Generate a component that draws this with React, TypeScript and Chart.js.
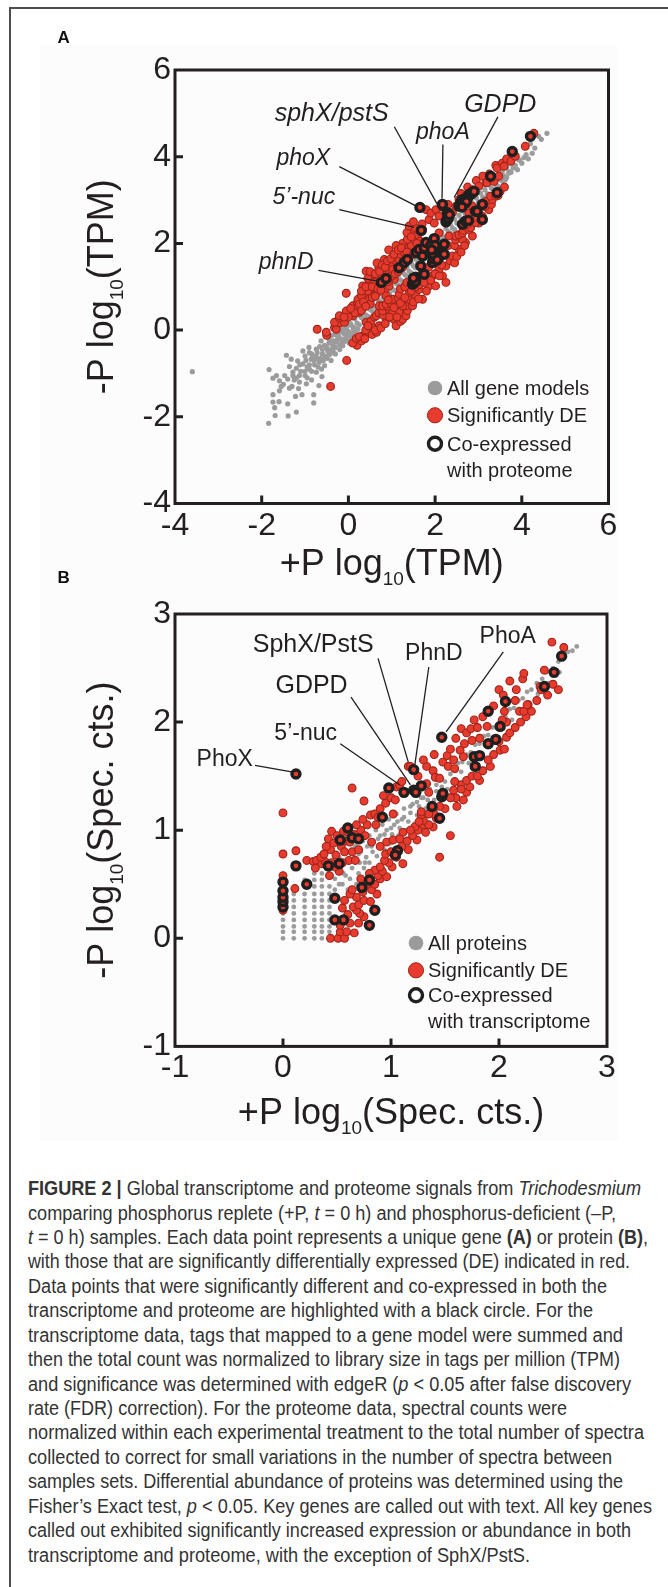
import React, { useEffect, useLayoutEffect, useRef } from 'react';
import { Chart, registerables } from 'chart.js';

Chart.register(...registerables);

type Pt = [number, number];

// ================= Panel A : transcriptome, log10(TPM) =================
const aTickValues = [-4, -2, 0, 2, 4, 6];

const aGeneModels: Pt[] = [
  [-3.6, -0.96],
  [-1.84, -2.15], [-1.69, -1.97], [-1.39, -1.98], [-1.2, -1.89], [-1.7, -1.79], [-1.74, -1.66], [-1.6, -1.65], [-1.4, -1.7],
  [-0.8, -1.68], [-1.74, -1.49], [-1.59, -1.4], [-1.36, -1.34], [-1.22, -1.53], [-1.07, -1.49], [-0.8, -1.49], [-0.68, -1.28],
  [-1.83, -0.91], [-1.74, -1.11], [-1.66, -1.05], [-1.59, -1.17], [-1.4, -1.13], [-1.28, -1.05], [-1.13, -1.2], [-0.97, -1.24],
  [-1.43, -0.58], [-1.32, -0.67], [-1.36, -0.84], [-1.2, -0.88], [-1.05, -0.48], [-0.91, -0.4], [-1.05, -0.78], [-0.9, -0.9],
  [-0.74, -0.97], [-0.61, -1.07], [-0.71, -0.67], [-0.55, -0.82], [-0.63, -0.25], [-0.48, -0.48], [-0.74, -0.44], [-1.13, -1.05],
  [-1.17, -0.71], [-0.86, -0.67], [-0.67, -0.74], [-1.0, -1.05], [-1.28, -0.97], [-1.47, -1.05], [-0.36, -0.36], [-0.28, -0.28],
  [-0.21, -0.17], [-0.44, -0.21], [-0.13, -0.36],
  [-1.5, -1.25], [-1.25, -1.15], [-1.1, -0.95], [-0.95, -0.85], [-0.85, -0.55], [-0.78, -0.8], [-0.6, -0.55], [-0.5, -0.65],
  [-0.42, -0.55], [-0.55, -0.35], [-0.35, -0.5], [-1.3, -1.3], [-1.55, -1.3], [-1.15, -1.35], [-0.95, -1.1], [-0.85, -1.15],
  [-1.0, -0.6], [-0.9, -0.52], [-0.62, -0.9], [-0.4, -0.7], [-0.3, -0.55], [-0.2, -0.45], [-0.25, -0.05], [-0.1, -0.2],
  [-0.05, 0.05], [0.05, -0.15], [0.15, -0.05],
  [-1.0, -0.95], [-0.9, -0.8], [-0.85, -0.95], [-0.8, -0.7], [-0.75, -0.6], [-0.7, -0.85], [-0.65, -0.65], [-0.6, -0.45],
  [-0.55, -0.6], [-0.5, -0.4], [-0.45, -0.3], [-0.4, -0.45], [-0.35, -0.25], [-0.3, -0.4], [-0.25, -0.2], [-0.2, -0.05],
  [-0.15, -0.3], [-0.1, 0.02], [-0.05, -0.1], [0.0, 0.12], [0.05, -0.25], [0.1, -0.15],
  [-1.2, -1.1], [-1.12, -0.8], [-0.98, -0.7], [-0.82, -0.62], [-0.72, -0.52], [-0.66, -0.38], [-0.58, -0.7], [-0.46, -0.58],
  [-0.38, -0.12], [-0.3, -0.1], [-0.18, 0.08], [-0.08, -0.26], [0.02, -0.3], [0.12, 0.0], [0.22, 0.02],
  [-0.3, -0.26], [-0.2, -0.21], [-0.1, -0.08], [0, -0.03], [0.1, 0.08], [0.2, 0.16], [0.3, 0.29], [0.4, 0.35], [0.5, 0.48],
  [0.6, 0.55], [0.7, 0.68], [0.8, 0.76], [0.9, 0.88], [1, 0.95], [1.1, 1.08], [1.2, 1.16], [1.3, 1.28], [1.4, 1.36],
  [1.5, 1.48], [1.6, 1.55], [1.7, 1.68], [1.8, 1.76], [1.9, 1.88], [2, 1.96], [2.1, 2.08], [2.2, 2.15], [2.3, 2.28],
  [2.4, 2.36], [2.5, 2.47], [2.6, 2.56], [2.7, 2.68], [2.8, 2.75], [2.9, 2.87], [3, 2.96], [3.1, 3.07], [3.2, 3.15],
  [3.3, 3.27], [3.4, 3.36], [3.5, 3.47], [3.6, 3.55], [3.7, 3.66], [3.8, 3.74],
  [-0.25, -0.1], [-0.15, 0.0], [-0.05, 0.08], [0.05, 0.15], [0.15, 0.26], [0.25, 0.34], [0.35, 0.46], [0.45, 0.55],
  [0.55, 0.64], [0.65, 0.76], [0.75, 0.85], [0.85, 0.96], [0.95, 1.05], [1.05, 1.15], [1.15, 1.26], [1.25, 1.34],
  [1.35, 1.46], [1.45, 1.55], [1.55, 1.64], [1.65, 1.76], [1.75, 1.85], [1.85, 1.95], [1.95, 2.06], [2.05, 2.14],
  [2.15, 2.26], [2.25, 2.35], [2.35, 2.44], [2.45, 2.56], [2.55, 2.65], [2.65, 2.74], [2.75, 2.86], [2.85, 2.94],
  [2.95, 3.05], [3.05, 3.16], [3.15, 3.24], [3.25, 3.35], [3.35, 3.46], [3.45, 3.54], [3.55, 3.65], [3.65, 3.76], [3.75, 3.84],
  [-0.2, -0.34], [-0.05, -0.2], [0.05, -0.08], [0.15, 0.04], [0.25, 0.12], [0.35, 0.24], [0.45, 0.32], [0.55, 0.44],
  [0.65, 0.52], [0.75, 0.64], [0.85, 0.72], [0.95, 0.84], [1.05, 0.92], [1.15, 1.04], [1.25, 1.12], [1.35, 1.24],
  [1.45, 1.32], [1.55, 1.44], [1.65, 1.52], [1.75, 1.64], [1.85, 1.72], [1.95, 1.84], [2.05, 1.92], [2.15, 2.04],
  [2.25, 2.12], [2.35, 2.24], [2.45, 2.32], [2.55, 2.44], [2.65, 2.52], [2.75, 2.64], [2.85, 2.72], [2.95, 2.84],
  [3.05, 2.92], [3.15, 3.04], [3.25, 3.12], [3.35, 3.24], [3.45, 3.32], [3.55, 3.44], [3.65, 3.52], [3.75, 3.64],
  [3.85, 3.8], [3.9, 3.7], [3.95, 3.92], [4.0, 3.85], [4.05, 3.98], [4.1, 4.05], [4.15, 3.95], [4.24, 4.08], [4.3, 4.2],
  [4.39, 4.47], [4.58, 4.54], [4.45, 4.4], [3.7, 3.62], [3.62, 3.47], [3.93, 3.93], [4.2, 4.3],
];

const aSignificantDE: Pt[] = [
  [-0.41, -1.3], [-0.04, -0.7], [-0.72, 0.02], [-0.5, -0.12], [-0.32, 0.06], [-0.51, -0.05], [-0.28, 0.02], [-0.21, 0.17],
  [-0.32, 0.18], [-0.09, 0.18], [-0.21, 0.29], [-0.02, 0.34], [-0.21, 0.33], [0.1, 0.33], [-0.05, 0.44], [0.14, 0.48],
  [0.1, 0.56], [0.33, 0.56], [0.21, 0.64], [0.22, 0.71], [0.25, 0.41], [0.2, 0.5], [0.41, 0.79], [0.3, 0.8], [0.48, 0.71],
  [0.5, 0.6], [0.6, 0.94], [0.56, 0.87], [0.37, 0.94], [0.45, 0.9], [0.33, 1.02], [0.48, 1.13], [-0.05, 0.85], [0.56, 1.29],
  [0.41, 1.36], [0.7, 1.44], [0.83, 1.63], [0.93, 1.85], [0.6, 1.1], [0.7, 1.25], [0.8, 1.35], [0.9, 1.3], [0.75, 1.05],
  [0.85, 0.95], [0.65, 0.85], [0.94, 1.02], [0.87, 1.17], [1.06, 1.17], [0.95, 1.2], [1.0, 1.5], [1.02, 1.4], [1.13, 1.48],
  [1.1, 1.6], [1.17, 1.63], [1.2, 1.75], [1.3, 1.6], [1.29, 1.79], [1.4, 1.94], [1.45, 1.95], [1.25, 2.0], [1.1, 1.95],
  [1.36, 2.09], [1.56, 2.13], [1.48, 2.28], [1.35, 2.25], [1.4, 2.4], [1.6, 2.2], [1.65, 2.05], [1.71, 2.32], [1.55, 2.35],
  [1.7, 2.45], [1.5, 2.5], [1.86, 2.55], [1.98, 2.47], [1.79, 2.78], [1.9, 2.7], [2.02, 2.78], [2.09, 2.63], [2.15, 2.85],
  [2.25, 2.47], [2.32, 2.55], [2.3, 2.9], [2.4, 2.71], [2.48, 2.86], [2.55, 3.01], [2.6, 3.15], [2.7, 3.09], [2.75, 3.3],
  [2.86, 3.24], [2.95, 3.45], [3.01, 3.32], [3.1, 3.55], [3.17, 3.4], [3.2, 3.4], [3.25, 3.6], [3.32, 3.47], [3.36, 3.43],
  [3.4, 3.8], [3.43, 3.74], [3.47, 3.55], [3.55, 3.85], [3.59, 3.78], [3.65, 3.95], [3.75, 3.9], [3.85, 4.01], [4.08, 4.24],
  [4.28, 4.54],
  [0.25, 0.6], [0.35, 0.65], [0.3, 0.9], [0.4, 1.0], [0.45, 1.2], [0.55, 1.0], [0.5, 1.35], [0.62, 1.3], [0.66, 1.55],
  [0.72, 1.35], [0.78, 1.5], [0.85, 1.45], [0.9, 1.6], [0.98, 1.65], [1.05, 1.75], [1.15, 1.85], [1.22, 1.9], [0.15, 0.4],
  [0.05, 0.5], [0.0, 0.3], [-0.1, 0.3], [0.3, 0.45], [0.4, 0.55], [0.55, 0.75], [0.68, 0.95], [0.62, 0.78], [0.75, 0.92],
  [0.8, 1.1], [0.92, 1.12], [1.0, 1.25], [1.08, 1.3], [1.15, 1.35], [1.25, 1.45], [1.35, 1.8], [1.5, 1.75], [1.58, 2.0],
  [1.45, 2.15],
  [0.2, -0.35], [0.1, -0.3], [0.3, -0.25], [0.18, -0.19], [0.33, -0.13], [0.44, -0.05], [0.48, -0.05], [0.55, -0.1],
  [0.65, -0.05], [0.4, 0.0], [0.56, 0.06], [0.71, 0.1], [0.41, 0.18], [0.52, 0.21], [0.87, 0.25], [0.6, 0.3], [0.64, 0.33],
  [0.7, 0.4], [0.8, 0.35], [0.79, 0.44], [0.94, 0.48], [1.1, 0.48], [0.71, 0.56], [0.79, 0.56], [0.9, 0.55], [0.87, 0.6],
  [1.0, 0.6], [1.02, 0.41], [1.05, 0.25], [1.1, 0.1], [1.2, 0.2], [1.25, 0.25], [1.3, 0.4], [1.17, 0.41], [1.33, 0.33],
  [1.36, 0.45], [1.33, 0.56], [1.25, 0.56], [1.1, 0.64], [1.02, 0.71], [1.15, 0.75], [0.87, 0.79], [1.17, 0.83], [1.4, 0.71],
  [1.48, 0.56], [1.55, 0.8], [1.71, 0.71], [1.4, 0.87], [1.63, 0.94], [1.2, 0.95], [1.3, 1.0], [1.5, 1.1], [1.86, 1.02],
  [2.01, 1.02], [2.25, 1.1], [1.6, 1.2], [1.8, 1.15], [1.7, 1.3], [1.94, 1.25], [2.17, 1.25], [2.09, 1.4], [1.85, 1.45],
  [2.25, 1.48], [2.0, 1.55], [2.35, 1.6], [2.1, 1.65], [2.4, 1.71], [2.2, 1.8], [2.55, 1.86], [2.3, 1.95], [2.45, 1.95],
  [2.02, 1.94], [2.7, 2.02], [2.47, 2.09], [2.63, 2.09], [2.32, 2.17], [2.48, 2.17], [2.86, 2.17], [2.09, 2.24], [2.55, 2.2],
  [2.63, 2.24], [2.65, 2.3], [2.78, 2.32], [2.82, 2.36], [2.75, 2.45], [3.01, 2.47], [2.93, 2.48], [2.9, 2.6], [3.09, 2.63],
  [3.0, 2.7], [2.78, 2.7], [3.24, 2.78], [3.15, 2.85], [2.86, 2.86], [3.3, 2.9], [3.17, 2.97], [3.32, 3.01], [3.28, 3.09],
  [3.4, 3.09], [3.45, 3.1], [3.5, 3.2], [3.6, 3.3],
  [0.25, -0.15], [0.38, -0.2], [0.45, 0.1], [0.62, 0.0], [0.75, 0.05], [0.85, 0.15], [0.95, 0.3], [1.12, 0.3], [0.92, 0.7],
  [1.05, 0.52], [1.2, 0.62], [1.3, 0.75], [1.45, 0.9], [1.35, 1.1], [1.55, 1.0], [1.65, 1.05], [1.75, 1.1], [1.5, 0.65],
  [1.62, 0.72], [1.8, 0.9], [1.9, 1.15], [2.0, 1.3], [2.1, 1.25], [2.15, 1.5], [2.45, 1.55], [2.5, 1.7], [2.6, 1.8], [2.68, 1.95],
];

const aCoExpressed: Pt[] = [
  [0.76, 1.1], [0.87, 1.19], [1.17, 1.44], [1.29, 1.56], [1.36, 1.63], [1.48, 1.06], [1.5, 1.1], [1.52, 1.17], [1.55, 1.22],
  [1.67, 1.48], [1.75, 1.29], [1.56, 1.79], [1.63, 1.86], [1.71, 1.71], [1.75, 1.9], [1.79, 2.02], [1.94, 1.56], [1.95, 1.65],
  [1.98, 1.86], [2.0, 1.8], [2.02, 1.71], [2.05, 1.9], [1.9, 1.95], [1.98, 2.11], [2.1, 1.7], [2.21, 1.75], [2.21, 1.98],
  [1.68, 2.3], [1.65, 2.83], [2.17, 2.9], [2.25, 2.5], [2.28, 2.55], [2.3, 2.62], [2.28, 2.71], [2.55, 2.86], [2.6, 2.9],
  [2.65, 2.95], [2.59, 2.94], [2.63, 3.01], [2.7, 3.0], [2.75, 3.05], [2.78, 3.13], [2.82, 3.13], [2.86, 3.17], [2.9, 3.2],
  [2.63, 2.44], [2.7, 2.51], [2.77, 2.53], [2.93, 2.74], [2.97, 2.74], [3.09, 2.55], [3.09, 2.9], [3.43, 3.17], [3.28, 3.55],
  [3.78, 4.12], [4.2, 4.47],
  [1.95, 1.75], [2.0, 1.95], [2.05, 1.62], [1.92, 1.85], [1.55, 1.12], [1.5, 1.2], [2.68, 2.92], [2.72, 2.96], [2.62, 2.84],
  [2.3, 2.58], [2.33, 2.66],
];

const aLegendLabels = ['All gene models', 'Significantly DE', 'Co-expressed', 'with proteome'];
const aXTitle: [string, string, string] = ['+P log', '10', '(TPM)'];
const aYTitle: [string, string, string] = ['-P log', '10', '(TPM)'];

// ================= Panel B : proteome, log10(spectral counts) =================
const bTickValues = [-1, 0, 1, 2, 3];

const bAllProteins: Pt[] = [
  [0, 0], [0, 0.06], [0, 0.11], [0, 0.17], [0, 0.23],
  [0.1, 0], [0.1, 0.06], [0.1, 0.11], [0.1, 0.17], [0.1, 0.23], [0.1, 0.29], [0.1, 0.35], [0.1, 0.41],
  [0.2, 0], [0.2, 0.06], [0.2, 0.11], [0.2, 0.17], [0.2, 0.23], [0.2, 0.29], [0.2, 0.35], [0.2, 0.41], [0.2, 0.48], [0.2, 0.54],
  [0.29, 0], [0.29, 0.06], [0.29, 0.11], [0.29, 0.17], [0.29, 0.23], [0.29, 0.29], [0.29, 0.35], [0.29, 0.41], [0.29, 0.48], [0.29, 0.54], [0.29, 0.6],
  [0.36, 0], [0.36, 0.06], [0.36, 0.11], [0.36, 0.17], [0.36, 0.23], [0.36, 0.29], [0.36, 0.35], [0.36, 0.41], [0.36, 0.48], [0.36, 0.54], [0.36, 0.6],
  [0.43, 0.06], [0.43, 0.11], [0.43, 0.17], [0.43, 0.23], [0.43, 0.29], [0.43, 0.35], [0.43, 0.41], [0.43, 0.48],
  [0.48, 0.45], [0.48, 0.55], [0.5, 0.65], [0.52, 0.75], [0.55, 0.5], [0.56, 0.6], [0.58, 0.7], [0.6, 0.8], [0.6, 0.45],
  [0.62, 0.55], [0.64, 0.65], [0.66, 0.75], [0.67, 0.85], [0.68, 0.5], [0.7, 0.6], [0.71, 0.7], [0.72, 0.8], [0.74, 0.9],
  [0.75, 0.65], [0.77, 0.75], [0.78, 0.85], [0.8, 0.95], [0.8, 0.7], [0.83, 0.8], [0.84, 0.9], [0.86, 1.0], [0.87, 0.76],
  [0.89, 0.85], [0.9, 0.95], [0.92, 1.05], [0.94, 0.82], [0.95, 0.9], [0.96, 1.0], [0.98, 1.1], [1.0, 0.88], [1.01, 0.96],
  [1.03, 1.05], [1.05, 1.15], [1.07, 0.95], [1.08, 1.02], [1.1, 1.1], [1.12, 1.2], [1.14, 1.0], [1.16, 1.08], [1.18, 1.16],
  [1.2, 1.24], [1.22, 1.06], [1.24, 1.14], [1.26, 1.22], [1.28, 1.3], [1.3, 1.13], [1.32, 1.2], [1.34, 1.28], [1.36, 1.34],
  [1.38, 1.2], [1.4, 1.28], [1.42, 1.36], [1.45, 1.3], [1.47, 1.4],
  [0.52, 0.5], [0.58, 0.58], [0.64, 0.72], [0.7, 0.78], [0.76, 0.7], [0.82, 0.85], [0.88, 0.92], [0.94, 0.96], [1.0, 1.02],
  [1.06, 1.08], [1.12, 1.12], [1.18, 1.22], [1.24, 1.26], [1.3, 1.3], [1.36, 1.38], [1.42, 1.42], [1.46, 1.34],
  [1.5, 1.45], [1.52, 1.38], [1.55, 1.52], [1.58, 1.46], [1.6, 1.55], [1.62, 1.62], [1.65, 1.54], [1.66, 1.63], [1.7, 1.7],
  [1.72, 1.62], [1.74, 1.72], [1.78, 1.79], [1.8, 1.7], [1.82, 1.8], [1.86, 1.87], [1.88, 1.78], [1.9, 1.88], [1.94, 1.95],
  [1.96, 1.86], [1.98, 1.96], [2.02, 2.03], [2.04, 1.94], [2.06, 2.05], [2.1, 2.12], [2.12, 2.02], [2.14, 2.13], [2.18, 2.2],
  [2.2, 2.1], [2.22, 2.22], [2.26, 2.28], [2.28, 2.18], [2.3, 2.3], [2.35, 2.36], [2.36, 2.26], [2.4, 2.4], [2.44, 2.46],
  [2.46, 2.36], [2.5, 2.5], [2.55, 2.56], [2.56, 2.46], [2.6, 2.6], [2.64, 2.65], [2.68, 2.66], [2.72, 2.7],
];

const bSignificantDE: Pt[] = [
  [0, 0.26], [0, 0.58], [0, 0.78], [0, 1.16], [0.12, 0.81], [0.11, 0.46], [0.22, 0.72], [0.28, 0.71], [0.31, 0.72],
  [0.36, 0.69], [0.39, 0.71], [0.42, 0.66], [0.43, 0.58], [0.35, 0.75], [0.45, 0.7], [0.52, 0.62], [0.44, 0.82], [0.42, 0.92],
  [0.4, 0.85], [0.45, 0.99], [0.47, 0.88], [0.49, 0.77], [0.5, 0.95], [0.54, 0.85], [0.56, 0.99], [0.57, 0.8], [0.58, 0.9],
  [0.61, 0.72], [0.62, 0.89], [0.64, 0.8], [0.66, 0.96], [0.67, 0.72], [0.72, 1.0], [0.78, 1.05], [0.82, 0.89], [0.81, 1.14],
  [0.85, 1.15], [0.88, 1.12], [0.9, 1.2], [0.95, 1.25], [1.0, 1.3], [0.75, 1.27], [0.64, 1.39],
  [0.3, 0.65], [0.38, 0.78], [0.48, 0.66], [0.55, 0.7], [0.6, 0.98], [0.68, 1.05], [0.74, 1.1], [0.7, 0.82], [0.76, 0.95],
  [0.86, 1.05], [0.93, 1.32], [1.05, 1.4],
  [0.44, 0], [0.51, 0], [0.57, 0], [0.53, 0.06], [0.59, 0.06], [0.66, 0.05], [0.53, 0.12], [0.62, 0.14], [0.7, 0.14],
  [0.75, 0.2], [0.6, 0.22], [0.71, 0.23], [0.68, 0.26], [0.65, 0.29], [0.7, 0.31], [0.57, 0.35], [0.75, 0.35], [0.68, 0.38],
  [0.62, 0.41], [0.74, 0.43], [0.81, 0.34], [0.87, 0.41], [0.82, 0.45], [0.78, 0.5], [0.85, 0.5], [0.9, 0.55], [0.88, 0.58],
  [0.96, 0.57], [0.92, 0.62], [0.85, 0.63], [0.9, 0.66], [1.01, 0.66], [0.98, 0.7], [1.11, 0.69], [0.94, 0.72], [1.05, 0.75],
  [1.16, 0.82], [0.9, 0.85], [1.1, 0.85], [0.96, 0.89], [1.15, 0.9], [1.02, 0.91], [1.24, 0.91], [1.2, 0.95], [1.11, 0.98],
  [1.32, 0.98], [1.25, 1.0], [1.22, 1.03], [1.39, 1.03], [1.3, 1.05], [1.35, 1.05], [1.3, 1.09], [1.42, 1.11], [1.28, 1.14],
  [1.4, 1.15], [1.28, 1.17], [1.5, 1.2], [1.61, 1.22], [1.67, 1.28], [1.6, 1.3], [1.7, 1.35], [1.58, 1.37], [1.73, 1.4],
  [1.65, 1.42], [1.59, 1.45], [1.82, 1.46], [1.7, 1.46], [1.75, 1.5], [1.85, 1.55], [1.92, 1.59], [1.95, 1.7], [2.01, 1.74],
  [2.05, 1.75], [2.07, 1.86], [2.1, 1.9], [2.2, 2.0], [2.07, 2.0], [2.19, 2.1], [2.3, 2.1], [2.27, 2.16], [2.35, 2.2],
  [2.45, 2.25], [2.4, 2.3], [2.5, 2.35], [2.55, 2.3], [2.38, 2.33], [1.45, 0.75], [1.55, 0.95],
  [0.55, 0.28], [0.64, 0.45], [0.72, 0.55], [0.8, 0.6], [0.95, 0.78], [1.0, 0.8], [1.08, 0.92], [1.18, 1.0], [1.26, 1.08],
  [1.35, 1.15], [1.45, 1.22], [1.55, 1.3], [1.65, 1.38], [1.8, 1.5], [1.9, 1.65], [2.0, 1.82], [2.15, 1.95], [2.25, 2.05],
  [1.02, 1.15], [1.04, 1.28], [1.08, 1.42], [1.1, 1.45], [1.16, 1.59], [1.25, 1.5], [1.33, 1.43], [1.35, 1.35], [1.33, 1.59],
  [1.3, 1.65], [1.39, 1.55], [1.41, 1.49], [1.45, 1.48], [1.48, 1.63], [1.4, 1.7], [1.52, 1.69], [1.53, 1.59], [1.58, 1.65],
  [1.59, 1.57], [1.55, 1.75], [1.64, 1.74], [1.6, 1.85], [1.67, 1.68], [1.68, 1.8], [1.65, 1.94], [1.7, 1.9], [1.74, 1.94],
  [1.75, 1.83], [1.77, 2.02], [1.8, 1.95], [1.82, 1.85], [1.85, 2.05], [1.89, 1.96], [1.95, 2.15], [2.0, 2.3], [2.03, 2.02],
  [2.04, 2.25], [2.05, 2.1], [2.1, 2.38], [2.15, 2.2], [2.16, 2.3], [2.22, 2.4], [2.23, 2.45], [2.23, 2.1], [2.26, 2.16],
  [2.39, 2.3], [2.42, 2.48], [2.49, 2.74], [2.6, 2.69], [1.18, 1.59],
];

const bCoExpressed: Pt[] = [
  [0, 0.29], [0, 0.34], [0, 0.38], [0, 0.44], [0, 0.52], [0.12, 0.67], [0.22, 0.5], [0.42, 0.67], [0.52, 0.69], [0.48, 0.37],
  [0.48, 0.17], [0.56, 0.17], [0.8, 0.12], [0.85, 0.26], [0.73, 0.47], [0.8, 0.54], [1.06, 0.81], [1.04, 0.77], [0.53, 0.91],
  [0.6, 1.02], [0.64, 0.93], [0.7, 0.92], [0.92, 1.12], [0.12, 1.52], [0.98, 1.39], [1.12, 1.35], [1.21, 1.37], [1.23, 1.35],
  [1.28, 1.41], [1.21, 1.56], [1.38, 1.22], [1.45, 1.11], [1.47, 1.31], [1.48, 1.34], [1.47, 1.86], [1.78, 1.59], [1.77, 1.68],
  [1.82, 1.69], [1.9, 1.8], [1.97, 1.84], [2.01, 1.96], [1.9, 2.1], [2.06, 2.19], [2.42, 2.33], [2.51, 2.46], [2.58, 2.61],
];

const bLegendLabels = ['All proteins', 'Significantly DE', 'Co-expressed', 'with transcriptome'];
const bXTitle: [string, string, string] = ['+P log', '10', '(Spec. cts.)'];
const bYTitle: [string, string, string] = ['-P log', '10', '(Spec. cts.)'];

// ================= Styling / layout =================
const FONT = "'Liberation Sans', Arial, Helvetica, sans-serif";
const INK = '#231f20';
const GREY = '#9b9b9b';
const RED = '#e63b2e';
const RED_EDGE = '#9e2418';
const RING = '#1f1f1f';

type Callout = { text: string; size: number; label: Pt; from: Pt; to: Pt };

const aCallouts: Callout[] = [
  { text: 'sphX/pstS', size: 25, label: [-1.7, 4.83], from: [1.06, 4.69], to: [2.14, 2.74] },
  { text: 'GDPD', size: 25, label: [2.67, 5.02], from: [3.45, 4.92], to: [2.44, 3.06] },
  { text: 'phoA', size: 23, label: [1.56, 4.41], from: [2.18, 4.28], to: [2.16, 3.03] },
  { text: 'phoX', size: 23, label: [-1.66, 3.82], from: [-0.21, 3.77], to: [1.59, 2.85] },
  { text: '5\u2019-nuc', size: 23, label: [-1.75, 2.92], from: [-0.21, 2.78], to: [1.52, 2.37] },
  { text: 'phnD', size: 23, label: [-2.07, 1.4], from: [-0.69, 1.38], to: [0.67, 1.13] },
];

const bCallouts: Callout[] = [
  { text: 'PhoX', size: 23, label: [-0.8, 1.59], from: [-0.26, 1.6], to: [0.08, 1.54] },
  { text: '5\u2019-nuc', size: 23, label: [-0.08, 1.83], from: [0.53, 1.8], to: [1.08, 1.42] },
  { text: 'GDPD', size: 25, label: [-0.07, 2.27], from: [0.63, 2.23], to: [1.18, 1.42] },
  { text: 'SphX/PstS', size: 25, label: [-0.28, 2.65], from: [0.88, 2.59], to: [1.16, 1.63] },
  { text: 'PhnD', size: 23, label: [1.13, 2.57], from: [1.35, 2.51], to: [1.22, 1.6] },
  { text: 'PhoA', size: 23, label: [1.82, 2.73], from: [2.04, 2.65], to: [1.51, 1.91] },
];

type PanelCfg = {
  letter: string;
  letterBaseline: number;
  canvasTop: number;
  canvasH: number;
  area: { left: number; top: number; right: number; bottom: number };
  ticks: number[];
  italic: boolean;
  callouts: Callout[];
  grey: Pt[];
  red: Pt[];
  ring: Pt[];
  greyRadius: number;
  legendLabels: string[];
  legendMarkerX: number;
  legendTextX: number;
  legendBaselines: number[];
  xTitle: [string, string, string];
  yTitle: [string, string, string];
  xTitleBaseline: number;
  yTitleBaselineX: number;
};

const panelA: PanelCfg = {
  letter: 'A', letterBaseline: 43, canvasTop: 0, canvasH: 600,
  area: { left: 175, top: 70, right: 608.5, bottom: 503.5 },
  ticks: aTickValues, italic: true, callouts: aCallouts,
  grey: aGeneModels, red: aSignificantDE, ring: aCoExpressed, greyRadius: 2.6,
  legendLabels: aLegendLabels, legendMarkerX: 435, legendTextX: 447,
  legendBaselines: [395, 422.3, 450.7, 476.7],
  xTitle: aXTitle, yTitle: aYTitle, xTitleBaseline: 575, yTitleBaselineX: 113,
};

const panelB: PanelCfg = {
  letter: 'B', letterBaseline: 583, canvasTop: 560, canvasH: 590,
  area: { left: 175, top: 614, right: 607, bottom: 1046.4 },
  ticks: bTickValues, italic: false, callouts: bCallouts,
  grey: bAllProteins, red: bSignificantDE, ring: bCoExpressed, greyRadius: 2.4,
  legendLabels: bLegendLabels, legendMarkerX: 416, legendTextX: 428,
  legendBaselines: [950, 977.3, 1002.3, 1027.7],
  xTitle: bXTitle, yTitle: bYTitle, xTitleBaseline: 1124, yTitleBaselineX: 113,
};

function drawTitle(ctx: CanvasRenderingContext2D, parts: [string, string, string], x: number, y: number, rotate: boolean) {
  ctx.save();
  ctx.translate(x, y);
  if (rotate) ctx.rotate(-Math.PI / 2);
  const big = `36px ${FONT}`;
  const small = `19px ${FONT}`;
  ctx.font = big;
  const w0 = ctx.measureText(parts[0]).width;
  const w2 = ctx.measureText(parts[2]).width;
  ctx.font = small;
  const w1 = ctx.measureText(parts[1]).width;
  let cx = -(w0 + w1 + w2) / 2;
  ctx.fillStyle = INK;
  ctx.textAlign = 'left';
  ctx.textBaseline = 'alphabetic';
  ctx.font = big;
  ctx.fillText(parts[0], cx, 0);
  cx += w0;
  ctx.font = small;
  ctx.fillText(parts[1], cx, 10);
  cx += w1;
  ctx.font = big;
  ctx.fillText(parts[2], cx, 0);
  ctx.restore();
}

function decorPlugin(p: PanelCfg) {
  return {
    id: 'decor' + p.letter,
    afterDatasetsDraw(chart: any) {
      const ctx: CanvasRenderingContext2D = chart.ctx;
      const { left, top, right, bottom } = chart.chartArea;
      const xs = chart.scales.x;
      const ys = chart.scales.y;
      const oy = p.canvasTop;
      ctx.save();
      // callout leader lines
      ctx.strokeStyle = INK;
      ctx.lineWidth = 1.3;
      for (const c of p.callouts) {
        ctx.beginPath();
        ctx.moveTo(xs.getPixelForValue(c.from[0]), ys.getPixelForValue(c.from[1]));
        ctx.lineTo(xs.getPixelForValue(c.to[0]), ys.getPixelForValue(c.to[1]));
        ctx.stroke();
      }
      ctx.fillStyle = INK;
      ctx.textAlign = 'left';
      ctx.textBaseline = 'alphabetic';
      for (const c of p.callouts) {
        ctx.font = `${p.italic ? 'italic ' : ''}${c.size}px ${FONT}`;
        ctx.fillText(c.text, xs.getPixelForValue(c.label[0]), ys.getPixelForValue(c.label[1]));
      }
      // frame box
      ctx.strokeStyle = INK;
      ctx.lineWidth = 3;
      ctx.strokeRect(left, top, right - left, bottom - top);
      // inward ticks
      ctx.beginPath();
      for (const v of p.ticks.slice(1, -1)) {
        const x = xs.getPixelForValue(v);
        ctx.moveTo(x, bottom);
        ctx.lineTo(x, bottom - 8);
        const y = ys.getPixelForValue(v);
        ctx.moveTo(left, y);
        ctx.lineTo(left + 8, y);
      }
      ctx.stroke();
      // legend
      const mx = p.legendMarkerX;
      const lb = p.legendBaselines.map((b) => b - oy);
      ctx.fillStyle = GREY;
      ctx.beginPath();
      ctx.arc(mx, lb[0] - 7, 7.3, 0, Math.PI * 2);
      ctx.fill();
      ctx.fillStyle = RED;
      ctx.strokeStyle = RED_EDGE;
      ctx.lineWidth = 1;
      ctx.beginPath();
      ctx.arc(mx, lb[1] - 7, 7.6, 0, Math.PI * 2);
      ctx.fill();
      ctx.stroke();
      ctx.strokeStyle = RING;
      ctx.lineWidth = 3.4;
      ctx.beginPath();
      ctx.arc(mx, lb[2] - 7, 6.5, 0, Math.PI * 2);
      ctx.stroke();
      ctx.fillStyle = INK;
      ctx.font = `20px ${FONT}`;
      p.legendLabels.forEach((t, i) => ctx.fillText(t, p.legendTextX, lb[i]));
      // axis titles
      drawTitle(ctx, p.xTitle, (left + right) / 2, p.xTitleBaseline - oy, false);
      drawTitle(ctx, p.yTitle, p.yTitleBaselineX, (top + bottom) / 2, true);
      // panel letter
      ctx.fillStyle = '#111';
      ctx.font = `bold 17px ${FONT}`;
      ctx.fillText(p.letter, 57.5, p.letterBaseline - oy);
      ctx.restore();
    },
  };
}

function Panel({ cfg }: { cfg: PanelCfg }) {
  const ref = useRef<HTMLCanvasElement>(null);
  useEffect(() => {
    const W = 668;
    const a = cfg.area;
    const oy = cfg.canvasTop;
    const axisCommon = (isX: boolean) => ({
      type: 'linear' as const,
      min: cfg.ticks[0],
      max: cfg.ticks[cfg.ticks.length - 1],
      grid: { display: false, drawTicks: false },
      border: { display: false },
      afterBuildTicks: (axis: any) => {
        axis.ticks = cfg.ticks.map((v) => ({ value: v }));
      },
      afterFit: (axis: any) => {
        if (isX) axis.height = cfg.canvasH - (a.bottom - oy);
        else axis.width = a.left;
      },
      ticks: {
        autoSkip: false,
        maxRotation: 0,
        padding: isX ? 3 : 4,
        color: INK,
        font: { family: FONT, size: 32 },
        callback: (v: any) => String(v),
      },
    });
    const chart = new Chart(ref.current!, {
      type: 'scatter',
      data: {
        datasets: [
          {
            label: 'co', data: cfg.ring.map(([x, y]) => ({ x, y })), order: 0,
            pointRadius: 4, pointBorderWidth: 3.4, pointBackgroundColor: RED, pointBorderColor: RING,
          },
          {
            label: 'de', data: cfg.red.map(([x, y]) => ({ x, y })), order: 1,
            pointRadius: 3.9, pointBorderWidth: 1.1, pointBackgroundColor: RED, pointBorderColor: RED_EDGE,
          },
          {
            label: 'all', data: cfg.grey.map(([x, y]) => ({ x, y })), order: 2,
            pointRadius: cfg.greyRadius, pointBorderWidth: 0, pointBackgroundColor: GREY, pointBorderColor: GREY,
          },
        ] as any,
      },
      options: {
        responsive: false,
        animation: false,
        devicePixelRatio: 1,
        events: [],
        layout: { padding: { left: 0, top: a.top - oy, right: W - a.right, bottom: 0 } },
        plugins: { legend: { display: false }, tooltip: { enabled: false } },
        scales: { x: axisCommon(true), y: axisCommon(false) } as any,
      },
      plugins: [decorPlugin(cfg)],
    });
    return () => chart.destroy();
  }, [cfg]);
  return (
    <canvas
      ref={ref}
      width={668}
      height={cfg.canvasH}
      style={{ position: 'absolute', left: 0, top: cfg.canvasTop, width: 668, height: cfg.canvasH }}
    />
  );
}

// ================= Caption =================
const captionLines: React.ReactNode[] = [
  <><b>FIGURE 2 |</b> Global transcriptome and proteome signals from <i>Trichodesmium</i></>,
  <>comparing phosphorus replete (+P, <i>t</i> = 0 h) and phosphorus-deficient (–P,</>,
  <><i>t</i> = 0 h) samples. Each data point represents a unique gene <b>(A)</b> or protein <b>(B)</b>,</>,
  <>with those that are significantly differentially expressed (DE) indicated in red.</>,
  <>Data points that were significantly different and co-expressed in both the</>,
  <>transcriptome and proteome are highlighted with a black circle. For the</>,
  <>transcriptome data, tags that mapped to a gene model were summed and</>,
  <>then the total count was normalized to library size in tags per million (TPM)</>,
  <>and significance was determined with edgeR (<i>p</i> &lt; 0.05 after false discovery</>,
  <>rate (FDR) correction). For the proteome data, spectral counts were</>,
  <>normalized within each experimental treatment to the total number of spectra</>,
  <>collected to correct for small variations in the number of spectra between</>,
  <>samples sets. Differential abundance of proteins was determined using the</>,
  <>Fisher’s Exact test, <i>p</i> &lt; 0.05. Key genes are called out with text. All key genes</>,
  <>called out exhibited significantly increased expression or abundance in both</>,
  <>transcriptome and proteome, with the exception of SphX/PstS.</>,
];
const captionWidths = [613, 588, 620, 602, 579, 565, 595, 592, 603, 539, 616, 584, 595, 624, 603, 502];
const CAPTION_FIRST_BASELINE = 1195;
const CAPTION_PITCH = 24.44;

function Caption() {
  const spans = useRef<(HTMLSpanElement | null)[]>([]);
  useLayoutEffect(() => {
    spans.current.forEach((s, i) => {
      if (!s) return;
      s.style.transform = 'none';
      const w = s.getBoundingClientRect().width;
      if (w > 0) s.style.transform = `scaleX(${captionWidths[i] / w})`;
    });
  }, []);
  return (
    <>
      {captionLines.map((line, i) => (
        <div
          key={i}
          style={{
            position: 'absolute', left: 28, top: CAPTION_FIRST_BASELINE + i * CAPTION_PITCH - 18.93,
            height: 24, lineHeight: '24px', fontSize: 20, fontFamily: FONT, color: '#333', whiteSpace: 'nowrap',
          }}
        >
          <span ref={(el) => { spans.current[i] = el; }} style={{ display: 'inline-block', transformOrigin: '0 0' }}>
            {line}
          </span>
        </div>
      ))}
    </>
  );
}

export default function App() {
  return (
    <div style={{ position: 'absolute', left: 0, top: 0, width: 668, height: 1587, overflow: 'hidden', background: '#fff' }}>
      <div style={{ position: 'absolute', left: 40, top: 45, width: 578, height: 1096, background: '#fcfcfc' }} />
      <div style={{ position: 'absolute', left: 10, top: 7, width: 658, height: 2, background: '#4d4d4d' }} />
      <div style={{ position: 'absolute', left: 9, top: 7, width: 2, height: 1580, background: '#4d4d4d' }} />
      <Panel cfg={panelA} />
      <Panel cfg={panelB} />
      <Caption />
    </div>
  );
}
